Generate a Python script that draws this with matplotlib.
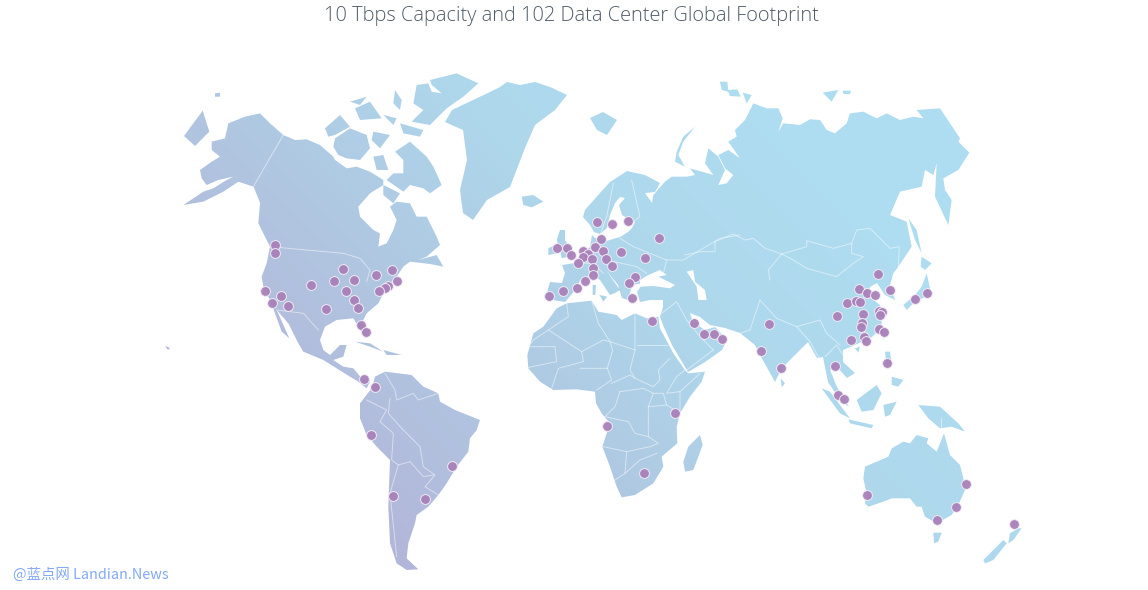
import matplotlib

matplotlib.use("Agg")
import matplotlib.pyplot as plt
import numpy as np
from matplotlib.colors import LinearSegmentedColormap
from matplotlib.patches import PathPatch
from matplotlib.path import Path

W, H = 1148, 590


def crop(pts, x0, y0):
    return [(x0 + x / 3, y0 + y / 3) for x, y in pts]


TITLE = "10 Tbps Capacity and 102 Data Center Global Footprint"
WATERMARK = "@蓝点网 Landian.News"

# --- land outlines, in picture pixels ---
north_america = crop([
    (90, 330), (125, 305), (150, 290), (125, 270), (125, 245), (165, 235), (175, 190), (225, 170),
    (270, 160), (300, 190), (340, 225), (375, 240), (410, 238), (450, 255), (490, 290), (495, 300),
    (530, 325), (560, 320), (600, 335), (640, 360), (640, 375), (600, 400), (565, 440), (570, 470),
    (610, 510), (630, 520), (625, 560), (650, 550), (670, 510), (680, 480), (660, 440), (680, 425),
    (720, 430), (740, 470), (770, 470), (800, 530), (810, 555), (770, 590), (745, 600), (800, 585),
    (820, 620), (780, 612), (720, 605), (700, 620), (680, 650), (660, 680), (640, 700), (625, 730),
    (590, 760), (575, 790), (595, 825), (585, 835), (565, 800), (550, 775), (500, 780), (465, 800),
    (450, 840), (460, 870), (480, 885), (510, 855), (530, 855), (520, 890), (490, 900), (520, 920),
    (550, 925), (575, 955), (600, 965), (590, 985), (565, 965), (540, 950), (500, 925), (460, 900),
    (400, 875), (385, 850), (355, 790), (320, 750), (358, 835), (335, 815), (315, 760), (300, 720),
    (280, 680), (275, 650), (290, 610), (300, 560), (285, 530), (265, 490), (270, 430), (250, 380),
    (205, 365), (160, 395), (100, 425), (40, 435), (100, 395), (130, 385), (170, 360), (190, 350),
    (145, 360), (110, 375), (95, 355),
], 170, 60)

south_america = crop([
    (135, 35), (215, 45), (250, 80), (295, 100), (300, 125), (345, 150), (420, 180), (410, 210),
    (390, 235), (385, 275), (350, 320), (320, 370), (295, 405), (265, 440), (230, 465), (225, 490),
    (215, 520), (205, 550), (200, 595), (235, 628), (200, 630), (170, 610), (150, 550), (145, 440),
    (150, 300), (110, 260), (80, 225), (60, 175), (60, 130), (95, 85), (105, 50),
], 340, 360)

greenland = [
    (445, 122), (452, 110), (490, 92), (500, 87), (507, 82), (520, 85), (535, 82), (550, 87),
    (567, 95), (555, 110), (535, 125), (525, 148), (510, 187), (487, 200), (473, 220), (463, 213),
    (460, 190), (467, 160), (463, 130),
]

europe_coast = [
    (546, 296), (550, 282), (562, 283), (565, 273), (562, 265), (575, 263), (583, 253), (590, 247),
    (592, 235), (595, 238), (603, 242), (620, 237), (628, 232), (632, 228), (635, 222), (628, 219),
    (622, 215), (619, 205), (625, 198), (620, 197), (615, 203), (610, 215), (607, 228), (600, 234),
    (594, 232), (590, 225), (583, 217), (585, 210), (600, 193), (610, 182), (627, 171), (645, 175),
    (660, 183), (655, 192), (645, 193), (652, 203),
]
russia_coast = crop([
    (10, 345), (45, 305), (65, 290), (110, 290), (135, 285), (120, 265), (190, 285), (165, 250),
    (175, 205), (205, 230), (215, 250), (225, 270), (205, 315), (230, 310), (250, 285), (225, 265),
    (205, 225), (235, 210), (270, 235), (235, 185), (260, 170), (255, 150), (285, 120), (310, 70),
    (350, 85), (385, 85), (398, 115), (385, 155), (400, 130), (450, 135), (480, 118), (510, 120),
    (530, 150), (555, 160), (590, 130), (600, 100), (640, 95), (680, 115), (710, 100), (750, 120),
    (790, 110), (820, 115), (800, 90), (870, 85), (930, 175), (925, 185), (958, 218), (925, 270),
    (880, 295), (885, 330), (905, 360), (895, 435), (855, 350), (860, 250), (850, 285), (825, 270),
    (815, 320), (750, 335), (720, 405), (770, 425), (785, 500), (745, 560), (730, 580),
], 650, 80)
asia_coast = [
    (890, 285), (895, 300), (885, 295), (877, 283), (870, 287), (867, 295), (880, 305),
    (882, 327), (872, 337), (855, 345), (843, 350), (843, 362), (855, 373), (847, 378), (837, 367),
    (830, 370), (837, 387), (849, 407), (840, 400), (828, 382), (823, 357), (817, 358), (808, 342),
    (782, 368), (775, 382), (760, 355), (755, 345), (740, 333), (725, 328), (710, 325), (700, 317),
    (690, 313), (693, 322), (705, 330), (715, 327), (727, 340), (722, 350), (705, 362), (688, 372),
    (672, 345), (663, 325), (660, 317), (663, 307), (663, 300), (650, 300), (640, 302), (637, 292),
    (643, 283), (632, 285), (630, 293), (628, 300), (622, 298), (618, 285), (606, 270), (620, 290),
    (615, 293), (610, 295), (600, 280), (592, 275), (580, 280), (577, 288), (565, 302), (553, 300),
    (549, 301),
]
eurasia = europe_coast + russia_coast + asia_coast

africa = crop([
    (110, 55), (140, 40), (215, 32), (235, 65), (290, 75), (305, 90), (345, 70), (380, 85), (415, 80),
    (420, 115), (460, 190), (495, 240), (505, 250), (555, 245), (545, 275), (510, 320), (480, 370),
    (470, 410), (472, 460), (425, 500), (430, 530), (400, 580), (345, 615), (305, 622), (290, 590),
    (270, 530), (247, 470), (270, 400), (245, 370), (228, 340), (225, 305), (170, 298), (100, 300),
    (60, 275), (25, 235), (22, 195), (40, 130), (70, 110),
], 520, 290)

australia = crop([
    (135, 200), (205, 170), (215, 145), (250, 125), (270, 130), (290, 105), (325, 115), (320, 130),
    (350, 155), (372, 100), (390, 165), (420, 195), (430, 235), (435, 270), (415, 315), (395, 345),
    (350, 370), (315, 350), (305, 320), (290, 320), (270, 295), (215, 295), (190, 305), (145, 320),
    (135, 310), (140, 280), (130, 235),
], 820, 400)

islands = [
    # Canadian arctic, Caribbean
    crop(p, 170, 60) for p in [
        [(780, 60), (860, 40), (925, 70), (880, 110), (830, 145), (780, 195), (725, 185), (760, 150),
         (730, 130), (740, 75), (775, 70), (785, 95), (815, 100), (785, 75)],
        [(465, 205), (510, 165), (540, 200), (495, 225), (475, 230)],
        [(495, 235), (540, 205), (590, 225), (600, 265), (570, 300), (530, 295), (505, 285), (490, 260)],
        [(675, 275), (720, 245), (770, 290), (790, 320), (815, 375), (780, 400), (760, 385), (720, 375),
         (700, 395), (650, 360), (670, 340), (700, 340), (700, 300)],
        [(555, 145), (600, 125), (635, 175), (570, 180)],
        [(610, 215), (660, 225), (630, 265), (605, 240)],
        [(640, 165), (680, 175), (670, 195)],
        [(690, 190), (760, 210), (750, 230), (700, 220)],
        [(540, 125), (590, 110), (570, 135)],
        [(675, 90), (695, 120), (690, 150), (670, 130)],
        [(610, 290), (640, 285), (655, 330), (620, 330)],
        [(640, 375), (690, 400), (670, 430), (640, 405)],
        [(42, 228), (98, 152), (118, 215), (75, 258)],
        [(135, 100), (150, 98), (150, 110), (135, 110)],
        [(555, 845), (600, 850), (640, 875), (600, 860)],
        [(640, 870), (695, 885), (650, 885)],
    ]
] + [
    # Europe, north Atlantic
    crop(p, 520, 160) for p in [
        [(120, 210), (135, 210), (135, 240), (165, 285), (125, 295), (120, 270), (110, 240)],
        [(85, 265), (105, 255), (110, 280), (85, 285)],
        [(5, 110), (40, 105), (70, 125), (35, 142), (10, 135)],
        [(238, 405), (262, 410), (250, 425)],
        [(218, 375), (228, 375), (226, 405), (218, 405)],
        [(325, 418), (350, 420), (330, 425)],
    ]
] + [
    # South east Asia and Japan
    crop(p, 740, 230) for p in [
        [(245, 475), (270, 485), (330, 565), (300, 550)],
        [(350, 510), (410, 465), (425, 490), (400, 540), (365, 545)],
        [(325, 568), (400, 585), (395, 595), (330, 580)],
        [(430, 525), (470, 515), (450, 555), (435, 560)],
        [(435, 365), (450, 365), (455, 400), (440, 410)],
        [(455, 440), (490, 450), (475, 470), (455, 465)],
        [(432, 295), (442, 300), (430, 330)],
        [(345, 355), (360, 350), (355, 368)],
        [(122, 445), (135, 460), (125, 472)],
        [(490, 225), (525, 195), (545, 170), (560, 130), (570, 175), (570, 195), (525, 215), (500, 240)],
    ]
] + [
    # Oceania
    crop(p, 820, 400) for p in [
        [(340, 398), (365, 398), (355, 425), (342, 430)],
        [(490, 480), (550, 420), (560, 430), (520, 480), (495, 490)],
        [(570, 400), (595, 385), (605, 385), (580, 420), (565, 430)],
        [(295, 15), (360, 20), (415, 70), (435, 95), (395, 80), (360, 85), (325, 55)],
    ]
] + [
    # Russian arctic, Sakhalin, Hokkaido
    crop(p, 650, 80) for p in [
        [(135, 140), (100, 170), (80, 215), (75, 245), (105, 260), (85, 225), (100, 185)],
        [(210, 5), (232, 5), (235, 35), (215, 30)],
        [(232, 30), (262, 28), (272, 50), (240, 48)],
        [(278, 38), (305, 45), (290, 70)],
        [(518, 38), (565, 30), (545, 65)],
        [(578, 32), (603, 32), (600, 42), (580, 42)],
        [(775, 415), (800, 450), (815, 520), (795, 480)],
        [(815, 530), (845, 550), (825, 570), (812, 560)],
    ]
] + [
    # Madagascar, Svalbard, Hawaii
    crop([(540, 435), (548, 465), (520, 540), (495, 545), (490, 515), (505, 470)], 520, 290),
    [(590, 118), (603, 112), (617, 120), (607, 135), (597, 130)],
    [(165, 346), (170, 348), (168, 350)],
]

# inland seas, painted back over the land
seas = [
    crop(p, 520, 160) for p in [
        [(360, 380), (360, 360), (385, 345), (420, 330), (440, 345), (415, 350), (465, 375), (450, 385), (400, 378)],
        [(500, 335), (520, 330), (525, 365), (555, 390), (560, 420), (535, 420), (530, 380)],
    ]
]

# --- country borders, a coarse subset ---
borders = [
    crop(p, 170, 60) for p in [
        [(340, 225), (250, 380), (270, 430)],
        [(300, 560), (520, 580), (570, 595), (600, 630), (590, 665)],
        [(320, 750), (400, 760), (445, 810)],
    ]
] + [
    crop(p, 340, 360) for p in [
        [(80, 120), (140, 150), (120, 185), (160, 220), (155, 300), (175, 315), (150, 400), (170, 590)],
        [(150, 115), (145, 160), (185, 205), (240, 260), (250, 320), (285, 345), (255, 380), (295, 405)],
        [(135, 40), (165, 90), (170, 120), (220, 100), (235, 120), (295, 100)],
        [(175, 315), (210, 305), (250, 350), (280, 345)],
    ]
] + [
    crop(p, 520, 160) for p in [
        [(280, 70), (260, 170), (240, 225)],
        [(335, 60), (360, 170), (340, 185)],
        [(170, 310), (220, 310), (250, 340)],
        [(300, 235), (340, 260), (440, 300), (430, 340)],
        [(260, 300), (350, 320), (380, 340)],
        [(440, 300), (490, 300), (600, 235), (660, 225)],
    ]
] + [
    crop(p, 520, 290) for p in [
        [(140, 40), (145, 80), (85, 120), (40, 150), (25, 170), (105, 170), (110, 215), (25, 232)],
        [(85, 120), (185, 185), (190, 215), (115, 235), (95, 295)],
        [(215, 32), (235, 100), (270, 155), (345, 180), (345, 70)],
        [(185, 185), (250, 150), (270, 155), (278, 180), (262, 235), (180, 235)],
        [(350, 165), (440, 165)],
        [(345, 180), (330, 240), (345, 265), (400, 290), (420, 270), (415, 240), (450, 205)],
        [(262, 235), (275, 270), (230, 300)],
        [(275, 280), (330, 255), (345, 265)],
        [(495, 240), (470, 260), (440, 310), (480, 305), (540, 250)],
        [(300, 305), (285, 350), (255, 380), (325, 395), (345, 430), (385, 440), (385, 350), (400, 310), (370, 295), (300, 305)],
        [(385, 350), (440, 345), (480, 370), (480, 305)],
        [(400, 310), (430, 310), (440, 345)],
        [(250, 470), (320, 485), (390, 470), (415, 460), (385, 440)],
        [(320, 485), (315, 550), (285, 570)],
        [(315, 550), (360, 510), (410, 490)],
        [(425, 70), (470, 35), (500, 90), (545, 145), (580, 180)],
        [(500, 240), (580, 180)],
    ]
] + [
    crop(p, 650, 80) for p in [
        [(105, 525), (150, 515), (195, 515), (195, 485), (250, 462), (285, 480), (310, 475), (345, 505), (395, 522)],
        [(395, 522), (470, 500), (470, 482), (550, 505), (605, 490), (620, 450), (660, 445), (720, 505), (748, 500), (745, 560)],
        [(605, 490), (605, 520), (640, 530), (610, 550), (560, 590), (470, 565), (430, 540), (395, 522)],
        [(395, 522), (355, 570), (360, 600)],
    ]
] + [
    crop(p, 740, 230) for p in [
        [(60, 210), (30, 300), (0, 310)],
        [(60, 210), (110, 265), (170, 290), (240, 270), (260, 310), (300, 345)],
        [(170, 290), (210, 335), (240, 390)],
        [(255, 380), (290, 345), (330, 410)],
    ]
] + [
    [(941, 418), (941, 428)],
]

# --- data center locations ---
cities_america = crop([
    (314, 556), (314, 578), (285, 692), (305, 729), (334, 709), (353, 737), (423, 675), (492, 663),
    (520, 627), (553, 660), (529, 693), (552, 719), (565, 744), (467, 747), (572, 796), (587, 816),
    (619, 646), (666, 630), (680, 662), (655, 677), (645, 685), (626, 694), (583, 957), (614, 980),
], 170, 60)
cities_south = crop([(92, 224), (158, 408), (254, 418), (337, 317)], 340, 360)
cities_europe = crop([
    (230, 185), (276, 191), (323, 183), (243, 238), (418, 235), (112, 263), (140, 263), (152, 284),
    (189, 274), (205, 283), (189, 290), (217, 298), (226, 261), (249, 272), (174, 310), (258, 297),
    (303, 275), (275, 318), (218, 324), (219, 344), (376, 293), (346, 351), (328, 370), (194, 364),
    (171, 384), (129, 393), (88, 408), (335, 415), (395, 484), (522, 489), (553, 523), (582, 522),
    (606, 538),
], 520, 160)
cities_asia = crop([
    (87, 282), (62, 364), (122, 414), (284, 407), (293, 496), (312, 508), (291, 257), (321, 218),
    (348, 213), (360, 215), (358, 176), (380, 190), (406, 195), (415, 132), (450, 179), (525, 207),
    (561, 190), (370, 252), (418, 243), (425, 245), (420, 255), (366, 280), (362, 290), (418, 296),
    (432, 305), (372, 320), (379, 332), (333, 330), (441, 399),
], 740, 230)
cities_oceania = crop([(142, 286), (437, 253), (408, 321), (350, 359), (581, 371)], 820, 400)
cities_africa = crop([(260, 408), (466, 370), (372, 549)], 520, 290)


def land_path():
    polys = [north_america, south_america, greenland, eurasia, africa, australia] + islands
    return Path.make_compound_path(*[Path(p + [p[0]], closed=True) for p in polys])


def main():
    fig = plt.figure(figsize=(W / 100, H / 100), dpi=100)
    ax = fig.add_axes([0, 0, 1, 1])
    ax.set_xlim(0, W)
    ax.set_ylim(H, 0)
    ax.axis("off")

    # diagonal fill, lavender bottom left to pale blue top right
    cmap = LinearSegmentedColormap.from_list("land", ["#b3b6d9", "#b0c6e1", "#aed7ec", "#aedcf0"])
    xx, yy = np.meshgrid(np.arange(W), np.arange(H))
    shade = np.clip((xx + (H - yy) - 420) / 800, 0, 1)
    im = ax.imshow(shade, cmap=cmap, extent=(0, W, H, 0), aspect="auto", zorder=1)
    clip = PathPatch(land_path(), transform=ax.transData, fc="none", ec="none")
    ax.add_patch(clip)
    im.set_clip_path(clip)

    for p in seas:
        ax.fill(*zip(*p), color="white", lw=0, zorder=2)
    for p in borders:
        ax.plot(*zip(*p), color="white", alpha=0.5, lw=0.7, zorder=3)

    cities = cities_america + cities_south + cities_europe + cities_asia + cities_oceania + cities_africa
    xs, ys = zip(*cities)
    ax.scatter(xs, ys, s=50, color="#a981b9", alpha=0.95, edgecolor="#f4eef6", linewidth=0.7, zorder=4)

    ax.text(571, 16.5, TITLE, ha="center", va="center", fontsize=14.4, color="#4f5b66",
            family="Open Sans", fontweight="light")
    ax.text(13, 575, WATERMARK, ha="left", va="center", fontsize=10.4, color="#84a9f7",
            family=["Noto Sans CJK SC", "DejaVu Sans"])

    ax.set_xlim(0, W)
    ax.set_ylim(H, 0)
    fig.savefig("out.png", dpi=100)
    plt.close(fig)


if __name__ == "__main__":
    main()
